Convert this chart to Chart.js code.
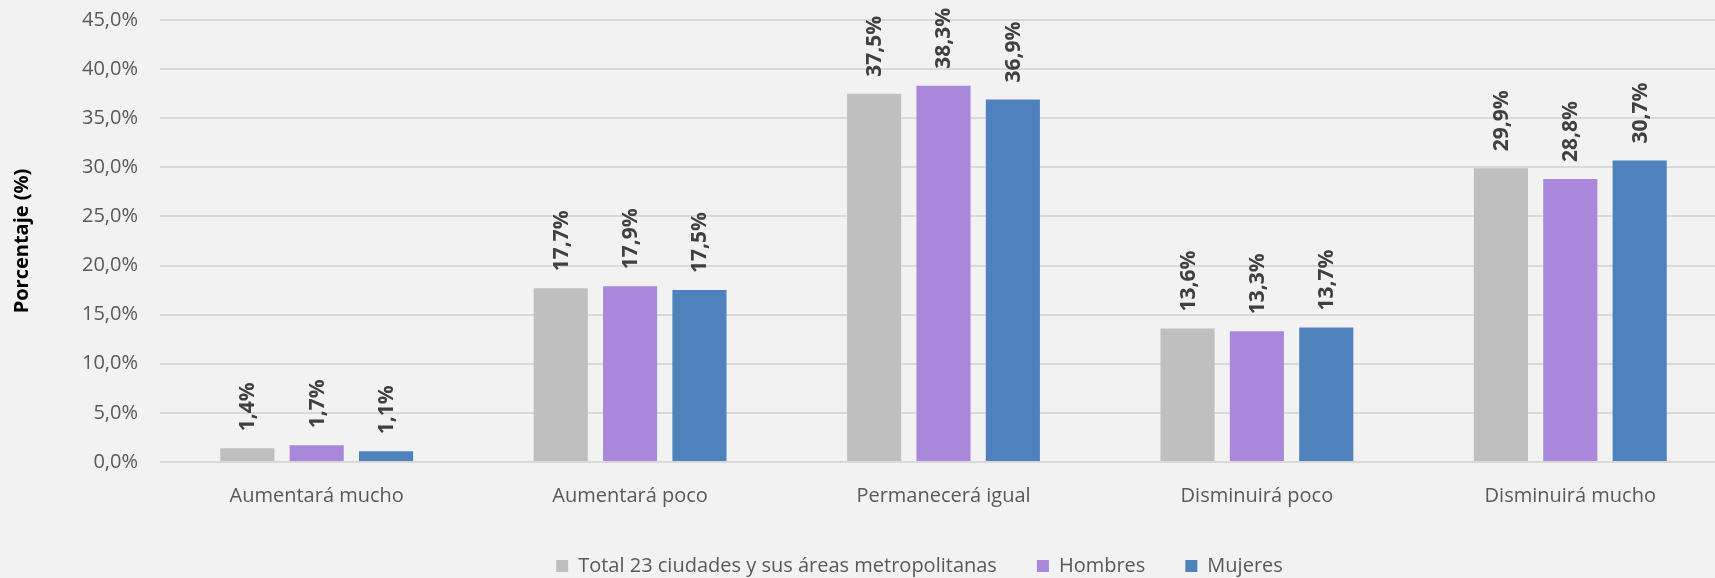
<!DOCTYPE html>
<html>
<head>
<meta charset="utf-8">
<script src="https://cdn.jsdelivr.net/npm/chart.js@4/dist/chart.umd.min.js"></script>
<style>
  html, body { margin: 0; padding: 0; background: #f2f2f2; overflow: hidden; }
  #wrap { width: 1727px; height: 578px; }
</style>
</head>
<body>
<div id="wrap"><canvas id="myChart" width="1727" height="578"></canvas></div>
<script>
const categories = ['Aumentará mucho', 'Aumentará poco', 'Permanecerá igual', 'Disminuirá poco', 'Disminuirá mucho'];
const totalValues = [1.4, 17.7, 37.5, 13.6, 29.9];
const hombresValues = [1.7, 17.9, 38.3, 13.3, 28.8];
const mujeresValues = [1.1, 17.5, 36.9, 13.7, 30.7];

const fontFamily = '"Open Sans", "Noto Sans", sans-serif';

function formatPct(v) {
  return v.toFixed(1).replace('.', ',') + '%';
}

// rotated value labels above each bar
const barLabels = {
  id: 'barLabels',
  afterDatasetsDraw(chart) {
    const ctx = chart.ctx;
    ctx.save();
    ctx.fillStyle = '#404040';
    ctx.font = 'bold 21px ' + fontFamily;
    ctx.textAlign = 'left';
    ctx.textBaseline = 'middle';
    chart.data.datasets.forEach((ds, i) => {
      chart.getDatasetMeta(i).data.forEach((bar, j) => {
        ctx.save();
        ctx.translate(bar.x + 1, bar.y - 17);
        ctx.rotate(-Math.PI / 2);
        ctx.fillText(formatPct(ds.data[j]), 0, 0);
        ctx.restore();
      });
    });
    ctx.restore();
  }
};

// nudge the legend to where the original sits
const legendShift = {
  id: 'legendShift',
  afterLayout(chart) {
    const lg = chart.legend;
    lg.left += 56;
    lg.right += 56;
    lg.top += 8;
    lg.bottom += 8;
  }
};

const ctx = document.getElementById('myChart').getContext('2d');

const data = {
  labels: categories,
  datasets: [
    { label: 'Total 23 ciudades y sus áreas metropolitanas', data: totalValues, backgroundColor: '#bfbfbf' },
    { label: 'Hombres', data: hombresValues, backgroundColor: '#a987da' },
    { label: 'Mujeres', data: mujeresValues, backgroundColor: '#4f81bd' }
  ]
};

const myChart = new Chart(ctx, {
  type: 'bar',
  data: data,
  options: {
    responsive: false,
    animation: false,
    barPercentage: 0.78,
    categoryPercentage: 0.664,
    layout: { padding: { top: 20, left: 0, right: 0, bottom: 0 } },
    plugins: {
      legend: {
        position: 'bottom',
        labels: {
          boxWidth: 12,
          boxHeight: 12,
          padding: 40,
          color: '#595959',
          font: { family: fontFamily, size: 20 }
        }
      },
      tooltip: { enabled: false }
    },
    scales: {
      x: {
        grid: { display: false, drawTicks: false },
        border: { display: false },
        ticks: { color: '#595959', padding: 22, font: { family: fontFamily, size: 20 } },
        afterFit: s => { s.height = 46; }
      },
      y: {
        min: 0,
        max: 45,
        grid: { color: '#d9d9d9', lineWidth: 2, drawTicks: true, tickLength: 22, tickColor: 'rgba(0,0,0,0)' },
        border: { display: false },
        ticks: {
          stepSize: 5,
          padding: 0,
          color: '#595959',
          font: { family: fontFamily, size: 20 },
          callback: v => formatPct(v)
        },
        title: {
          display: true,
          text: 'Porcentaje (%)',
          color: '#000000',
          padding: { top: 10, bottom: 0 },
          font: { family: fontFamily, size: 20, weight: 'bold' }
        },
        afterFit: s => { s.width = 160; }
      }
    }
  },
  plugins: [barLabels, legendShift]
});
</script>
</body>
</html>
